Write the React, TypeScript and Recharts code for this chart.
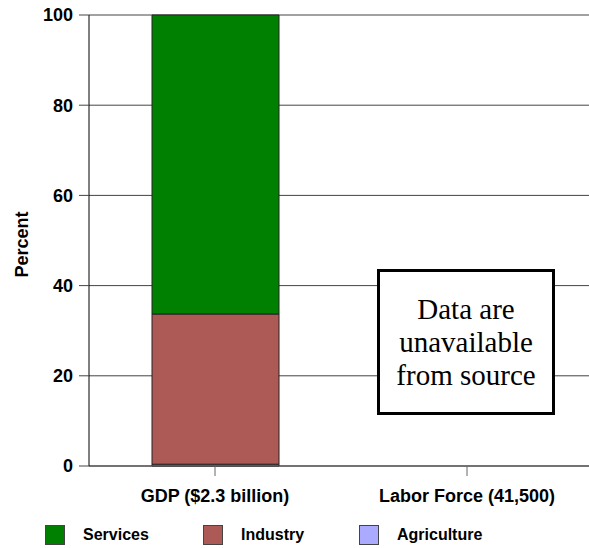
import React from "react";
import { BarChart, Bar, XAxis, YAxis, CartesianGrid } from "recharts";

const categories = ["GDP ($2.3 billion)", "Labor Force (41,500)"];
const agriculture = [0.4, null];
const industry = [33.3, null];
const services = [66.3, null];
const yTicks = [0, 20, 40, 60, 80, 100];
const seriesNames = ["Agriculture", "Industry", "Services"];
const seriesColors = ["#AAAAFF", "#AD5A56", "#008000"];
const noteLines = ["Data are", "unavailable", "from source"];

const data = categories.map((c, i) => ({
  name: c,
  Agriculture: agriculture[i],
  Industry: industry[i],
  Services: services[i],
}));

const FONT = "'Liberation Sans', Arial, sans-serif";

const PercentLabel = (props: any) => {
  const vb = props.viewBox || {};
  const cy = vb.y + vb.height / 2 + 4;
  return (
    <text
      x={22}
      y={cy}
      transform={`rotate(-90, 22, ${cy})`}
      textAnchor="middle"
      dominantBaseline="central"
      fontFamily={FONT}
      fontWeight="bold"
      fontSize={18}
      fill="#000"
    >
      Percent
    </text>
  );
};

export default function App() {
  const legendOrder = [2, 1, 0];
  const legendX = [45, 203, 359];
  return (
    <div
      style={{
        position: "relative",
        width: 589,
        height: 548,
        overflow: "hidden",
        background: "#fff",
      }}
    >
      <style>{"html,body{margin:0;padding:0;overflow:hidden;}"}</style>
      <BarChart
        width={593}
        height={548}
        data={data}
        margin={{ top: 15, right: 0, left: 0, bottom: 52 }}
        barSize={127}
      >
        <CartesianGrid vertical={false} stroke="#444" strokeWidth={1} />
        <XAxis
          dataKey="name"
          height={30}
          tickSize={10}
          tickMargin={13}
          axisLine={{ stroke: "#444" }}
          tickLine={{ stroke: "#666" }}
          tick={{ fontFamily: FONT, fontWeight: "bold", fontSize: 18, fill: "#000" }}
          interval={0}
        />
        <YAxis
          width={89}
          domain={[0, 100]}
          ticks={yTicks}
          tickSize={10}
          tickMargin={6}
          axisLine={{ stroke: "#000" }}
          tickLine={{ stroke: "#444" }}
          tick={{ fontFamily: FONT, fontWeight: "bold", fontSize: 18, fill: "#000" }}
          label={<PercentLabel />}
        />
        {seriesNames.map((s, i) => (
          <Bar
            key={s}
            dataKey={s}
            stackId="a"
            fill={seriesColors[i]}
            stroke="#222"
            strokeWidth={1}
            isAnimationActive={false}
          />
        ))}
      </BarChart>
      <div
        style={{
          position: "absolute",
          left: 377,
          top: 269,
          width: 178,
          height: 146,
          boxSizing: "border-box",
          border: "3px solid #000",
          background: "#fff",
          display: "flex",
          flexDirection: "column",
          justifyContent: "center",
          alignItems: "center",
          fontFamily: "'Liberation Serif', 'Times New Roman', serif",
          fontSize: 29,
          lineHeight: "33px",
          color: "#000",
        }}
      >
        {noteLines.map((l) => (
          <div key={l}>{l}</div>
        ))}
      </div>
      {legendOrder.map((idx, k) => (
        <div key={seriesNames[idx]} style={{ position: "absolute", left: legendX[k], top: 525, height: 20, display: "flex", alignItems: "center" }}>
          <div style={{ width: 20, height: 20, boxSizing: "border-box", background: seriesColors[idx], border: "1px solid #444" }} />
          <span style={{ marginLeft: 18, fontFamily: FONT, fontWeight: "bold", fontSize: 16, color: "#000" }}>{seriesNames[idx]}</span>
        </div>
      ))}
    </div>
  );
}
